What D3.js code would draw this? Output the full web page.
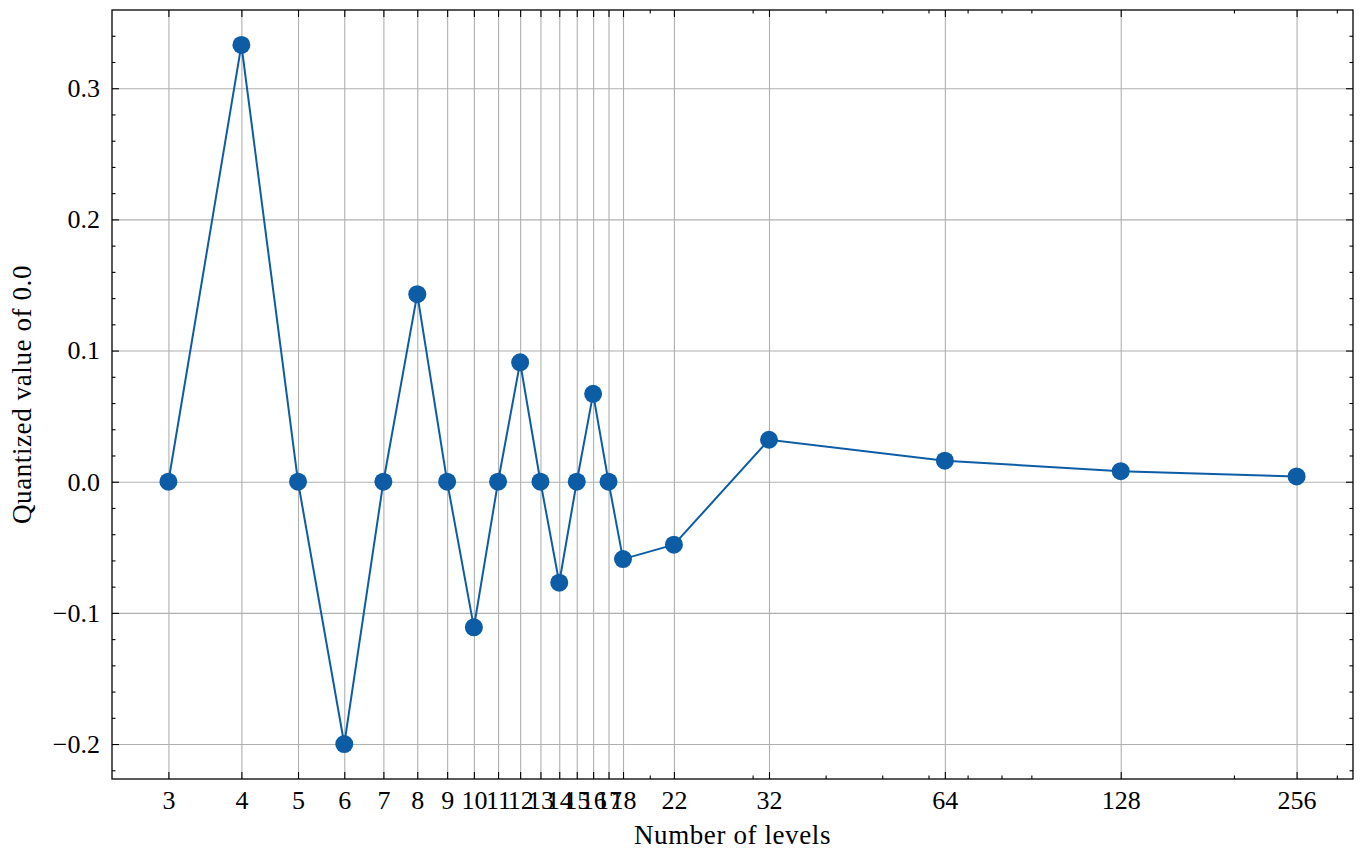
<!DOCTYPE html>
<html lang="en">
<head>
	<meta charset="UTF-8">
	<title>Quantized value of 0.0</title>
	<style>
		body{margin:0;background:#fff;}
		text{font-family:"Liberation Serif","DejaVu Serif",serif;fill:#000;}
	</style>
</head>
<body>
<script src="https://cdn.jsdelivr.net/npm/d3@7/dist/d3.min.js"></script>
<script>
	var levels=[3,4,5,6,7,8,9,10,11,12,13,14,15,16,17,18,22,32,64,128,256];
	var values=[0,0.333,0,-0.2,0,0.143,0,-0.111,0,0.091,0,-0.077,0,0.067,0,-0.059,-0.048,0.032,0.016,0.008,0.004];
	var yTicks=[-0.2,-0.1,0,0.1,0.2,0.3];
	var xMinor=[20,30,40,50,60,70,80,90,200,300];

	var width=1362;
	var height=860;
	var padding={top:10,left:112,right:9,bottom:81};
	var plotW=width-padding.left-padding.right;
	var plotH=height-padding.top-padding.bottom;
	var color='#0C5DA5';

	var svg=d3.select('body')
			.append('svg')
			.attr('width',width)
			.attr('height',height);

	// matplotlib style 5% margins, x in log space
	var lx=Math.log10(d3.min(levels)), hx=Math.log10(d3.max(levels));
	var mx=(hx-lx)*0.05;
	var xScale=d3.scaleLog()
			.domain([Math.pow(10,lx-mx),Math.pow(10,hx+mx)])
			.range([padding.left,padding.left+plotW]);
	var ly=d3.min(values), hy=d3.max(values);
	var my=(hy-ly)*0.05;
	var yScale=d3.scaleLinear()
			.domain([ly-my,hy+my])
			.range([padding.top+plotH,padding.top]);

	var yMinor=d3.range(-22,37,2).map(function(d){return d/100;})
			.filter(function(d){
				return Math.abs(Math.round(d*10)-d*10)>1e-6 && d>=yScale.domain()[0] && d<=yScale.domain()[1];
			});

	var fmtY=function(d){
		var s=d3.format('.1f')(Math.abs(d));
		return (d<-1e-9?'\u2212':'')+s;
	};

	// grid
	svg.append('g')
		.attr('class','xgrid')
		.attr('transform','translate(0,'+(padding.top+plotH)+')')
		.call(d3.axisBottom(xScale).tickValues(levels).tickSize(-plotH).tickFormat(''))
		.call(function(g){g.select('.domain').remove();})
		.selectAll('line').attr('stroke','#b0b0b0').attr('stroke-width',1.1);
	svg.append('g')
		.attr('class','ygrid')
		.attr('transform','translate('+padding.left+',0)')
		.call(d3.axisLeft(yScale).tickValues(yTicks).tickSize(-plotW).tickFormat(''))
		.call(function(g){g.select('.domain').remove();})
		.selectAll('line').attr('stroke','#b0b0b0').attr('stroke-width',1.1);

	// line + markers
	var line=d3.line()
			.x(function(d,i){return xScale(levels[i]);})
			.y(function(d){return yScale(d);});
	svg.append('path')
		.datum(values)
		.attr('fill','none')
		.attr('stroke',color)
		.attr('stroke-width',2)
		.attr('d',line);
	svg.selectAll('.dot')
		.data(values)
		.enter()
		.append('circle')
		.attr('class','dot')
		.attr('cx',function(d,i){return xScale(levels[i]);})
		.attr('cy',function(d){return yScale(d);})
		.attr('r',9)
		.attr('fill',color);

	// ticks, inward on all four sides
	function ticks(axis,tr,labels){
		var g=svg.append('g')
			.attr('transform',tr)
			.call(axis);
		g.select('.domain').remove();
		g.selectAll('line').attr('stroke','#000').attr('stroke-width',1.1);
		g.selectAll('text').style('font-size','26px');
		if(!labels) g.selectAll('text').remove();
		return g;
	}
	var bottomTr='translate(0,'+(padding.top+plotH)+')';
	var topTr='translate(0,'+padding.top+')';
	var leftTr='translate('+padding.left+',0)';
	var rightTr='translate('+(padding.left+plotW)+',0)';

	ticks(d3.axisBottom(xScale).tickValues(levels).tickSizeInner(-7).tickSizeOuter(0).tickPadding(12).tickFormat(d3.format('d')),bottomTr,true);
	ticks(d3.axisBottom(xScale).tickValues(xMinor).tickSizeInner(-3.5).tickSizeOuter(0).tickFormat(''),bottomTr,false);
	ticks(d3.axisTop(xScale).tickValues(levels).tickSizeInner(-7).tickSizeOuter(0).tickFormat(''),topTr,false);
	ticks(d3.axisTop(xScale).tickValues(xMinor).tickSizeInner(-3.5).tickSizeOuter(0).tickFormat(''),topTr,false);

	ticks(d3.axisLeft(yScale).tickValues(yTicks).tickSizeInner(-7).tickSizeOuter(0).tickPadding(12).tickFormat(fmtY),leftTr,true);
	ticks(d3.axisLeft(yScale).tickValues(yMinor).tickSizeInner(-3.5).tickSizeOuter(0).tickFormat(''),leftTr,false);
	ticks(d3.axisRight(yScale).tickValues(yTicks).tickSizeInner(-7).tickSizeOuter(0).tickFormat(''),rightTr,false);
	ticks(d3.axisRight(yScale).tickValues(yMinor).tickSizeInner(-3.5).tickSizeOuter(0).tickFormat(''),rightTr,false);

	// frame
	svg.append('rect')
		.attr('x',padding.left)
		.attr('y',padding.top)
		.attr('width',plotW)
		.attr('height',plotH)
		.attr('fill','none')
		.attr('stroke','#000')
		.attr('stroke-width',1.3);

	// axis labels
	svg.append('text')
		.attr('x',padding.left+plotW/2)
		.attr('y',844)
		.attr('text-anchor','middle')
		.style('font-size','27px')
		.style('letter-spacing','0.6px')
		.text('Number of levels');
	svg.append('text')
		.attr('transform','translate(31,'+(padding.top+plotH/2)+') rotate(-90)')
		.attr('text-anchor','middle')
		.style('font-size','27px')
		.style('letter-spacing','0.6px')
		.text('Quantized value of 0.0');
</script>
</body>
</html>
